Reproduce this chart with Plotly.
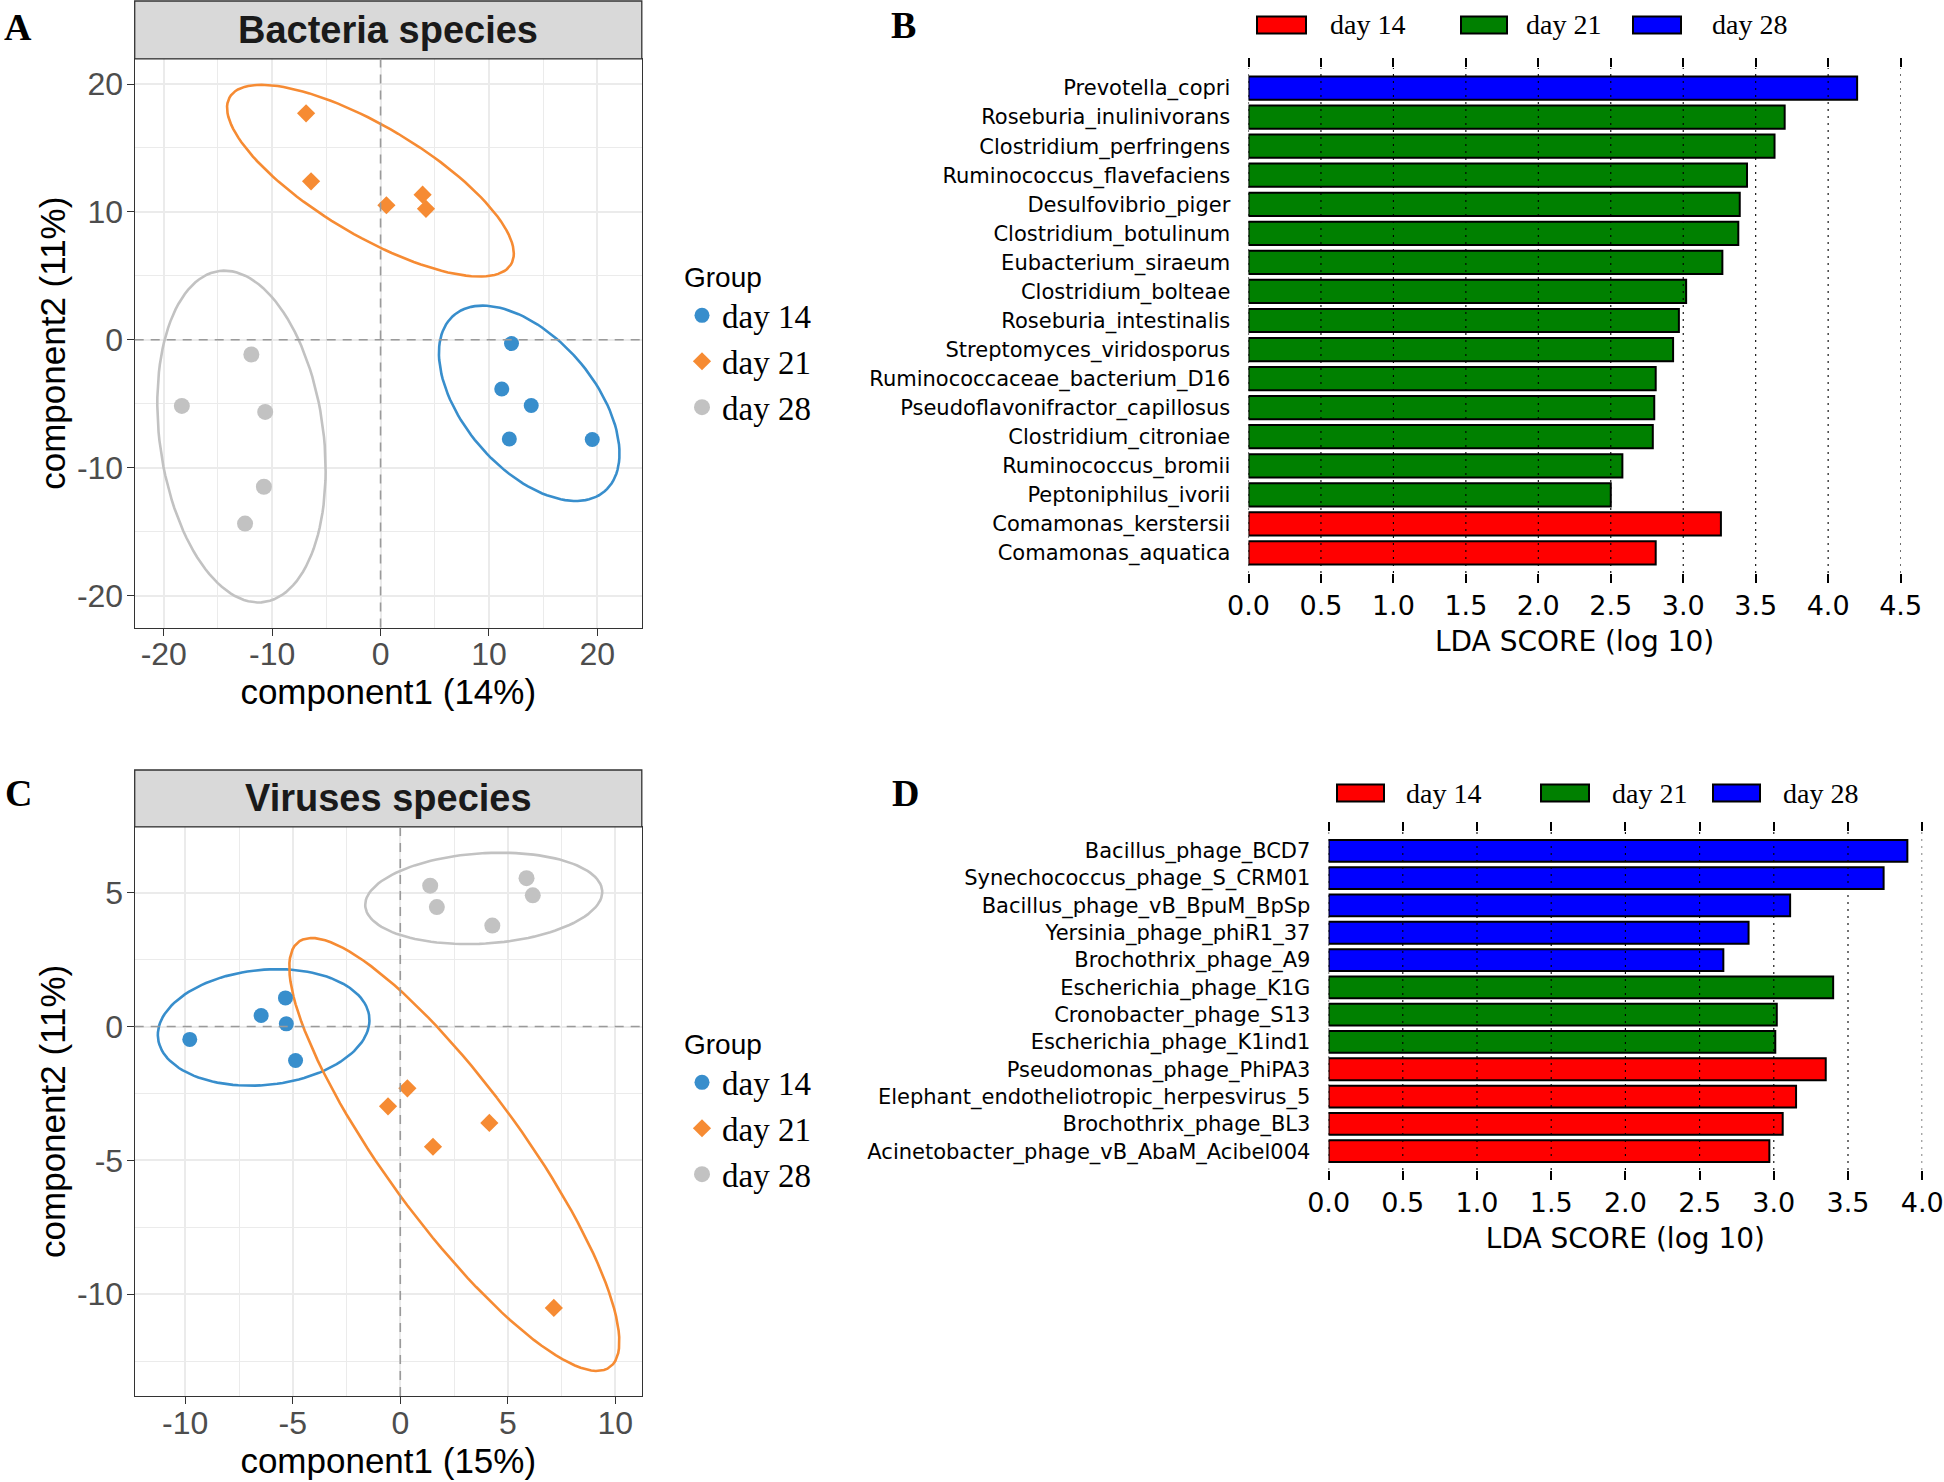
import numpy as np
import plotly.graph_objects as go

W, H = 1944, 1482

# ---------------- data ----------------
groups = ["day 14", "day 21", "day 28"]

# Panel A: Bacteria species (PLS-DA components)
A_d14_x = [12.08, 11.18, 13.90, 11.88, 19.53]
A_d14_y = [-0.29, -3.84, -5.14, -7.76, -7.79]
A_d21_x = [-6.87, -6.41, 0.54, 3.88, 4.19]
A_d21_y = [17.71, 12.39, 10.52, 11.35, 10.24]
A_d28_x = [-11.92, -18.33, -10.64, -10.76, -12.50]
A_d28_y = [-1.15, -5.17, -5.64, -11.49, -14.37]
A_xticks = [-20, -10, 0, 10, 20]
A_yticks = [-20, -10, 0, 10, 20]

# Panel C: Viruses species
C_d14_x = [-9.79, -6.47, -5.34, -5.30, -4.87]
C_d14_y = [-0.48, 0.41, 1.07, 0.10, -1.27]
C_d21_x = [-0.57, 0.33, 1.52, 4.14, 7.14]
C_d21_y = [-2.98, -2.31, -4.49, -3.60, -10.51]
C_d28_x = [1.39, 1.70, 4.28, 5.87, 6.16]
C_d28_y = [5.26, 4.46, 3.77, 5.54, 4.90]
C_xticks = [-10, -5, 0, 5, 10]
C_yticks = [-10, -5, 0, 5]

# Panel B: LEfSe bacteria
B_names = ["Prevotella_copri", "Roseburia_inulinivorans", "Clostridium_perfringens",
           "Ruminococcus_flavefaciens", "Desulfovibrio_piger", "Clostridium_botulinum",
           "Eubacterium_siraeum", "Clostridium_bolteae", "Roseburia_intestinalis",
           "Streptomyces_viridosporus", "Ruminococcaceae_bacterium_D16",
           "Pseudoflavonifractor_capillosus", "Clostridium_citroniae",
           "Ruminococcus_bromii", "Peptoniphilus_ivorii", "Comamonas_kerstersii",
           "Comamonas_aquatica"]
B_scores = [4.20, 3.70, 3.63, 3.44, 3.39, 3.38, 3.27, 3.02, 2.97, 2.93, 2.81, 2.80,
            2.79, 2.58, 2.50, 3.26, 2.81]
B_groups = ["day 28"] + ["day 21"] * 14 + ["day 14"] * 2

# Panel D: LEfSe viruses
D_names = ["Bacillus_phage_BCD7", "Synechococcus_phage_S_CRM01",
           "Bacillus_phage_vB_BpuM_BpSp", "Yersinia_phage_phiR1_37",
           "Brochothrix_phage_A9", "Escherichia_phage_K1G", "Cronobacter_phage_S13",
           "Escherichia_phage_K1ind1", "Pseudomonas_phage_PhiPA3",
           "Elephant_endotheliotropic_herpesvirus_5", "Brochothrix_phage_BL3",
           "Acinetobacter_phage_vB_AbaM_Acibel004"]
D_scores = [3.90, 3.74, 3.11, 2.83, 2.66, 3.40, 3.02, 3.01, 3.35, 3.15, 3.06, 2.97]
D_groups = ["day 28"] * 5 + ["day 21"] * 3 + ["day 14"] * 4

B_ticks = [0.0, 0.5, 1.0, 1.5, 2.0, 2.5, 3.0, 3.5, 4.0, 4.5]
D_ticks = [0.0, 0.5, 1.0, 1.5, 2.0, 2.5, 3.0, 3.5, 4.0]

# ---------------- styles ----------------
mixo_col = {"day 14": "#388ECC", "day 21": "#F68B33", "day 28": "#C2C2C2"}
mixo_sym = {"day 14": "circle", "day 21": "diamond", "day 28": "circle"}
mixo_size = {"day 14": 15, "day 21": 14, "day 28": 16}
lefse_col = {"day 14": "#FF0000", "day 21": "#008000", "day 28": "#0000FF"}

SANS = "Liberation Sans"
SERIF = "Liberation Serif"
DJV = "DejaVu Sans"


def fx(p):
    return p / W


def fy(p):
    return 1 - p / H


def ellipse(xs, ys, level=0.95, npts=120):
    x = np.asarray(xs, float)
    y = np.asarray(ys, float)
    cov = np.cov(x, y)
    t = np.sqrt(-2 * np.log(1 - level))
    sx, sy = np.sqrt(np.diag(cov))
    r = cov[0, 1] / (sx * sy)
    d = np.arccos(r)
    a = np.linspace(0, 2 * np.pi, npts)
    return t * sx * np.cos(a + d / 2) + x.mean(), t * sy * np.cos(a - d / 2) + y.mean()


fig = go.Figure()


# ---------------- scatter panels ----------------
def add_scatter_panel(data, xa, ya, leg):
    for g, (xs, ys) in zip(groups, data):
        ex, ey = ellipse(xs, ys)
        fig.add_trace(go.Scatter(x=ex, y=ey, mode="lines",
                                 line=dict(color=mixo_col[g], width=2.6),
                                 xaxis=xa, yaxis=ya, showlegend=False, hoverinfo="skip"))
    for g, (xs, ys) in zip(groups, data):
        fig.add_trace(go.Scatter(x=xs, y=ys, mode="markers", name=g,
                                 marker=dict(color=mixo_col[g], symbol=mixo_sym[g],
                                             size=mixo_size[g], line=dict(width=0)),
                                 xaxis=xa, yaxis=ya, legend=leg))


add_scatter_panel([(A_d14_x, A_d14_y), (A_d21_x, A_d21_y), (A_d28_x, A_d28_y)], "x", "y", "legend")
add_scatter_panel([(C_d14_x, C_d14_y), (C_d21_x, C_d21_y), (C_d28_x, C_d28_y)], "x3", "y3", "legend2")


# ---------------- bar panels ----------------
def add_bar_panel(names, scores, grps, xa, ya):
    for g in groups:
        xs = [s for s, gg in zip(scores, grps) if gg == g]
        ys = [n for n, gg in zip(names, grps) if gg == g]
        fig.add_trace(go.Bar(x=xs, y=ys, orientation="h", width=0.8,
                             marker=dict(color=lefse_col[g], line=dict(color="black", width=2)),
                             xaxis=xa, yaxis=ya, showlegend=False, name=g))


add_bar_panel(B_names, B_scores, B_groups, "x2", "y2")
add_bar_panel(D_names, D_scores, D_groups, "x4", "y4")


# ---------------- axes ----------------
def pca_axis(dom, rng, ticks, title, standoff, lblshift):
    step = ticks[1] - ticks[0]
    return dict(domain=dom, range=rng, tickmode="array", tickvals=ticks,
                ticktext=[str(t) for t in ticks], ticks="outside", ticklen=7,
                tickwidth=1.3, tickcolor="#333333", ticklabelstandoff=lblshift,
                tickfont=dict(family=SANS, size=32, color="#4D4D4D"),
                showgrid=True, gridcolor="#EBEBEB", gridwidth=1.6,
                minor=dict(tickmode="linear", dtick=step / 2, tick0=0, showgrid=True,
                           gridcolor="#EBEBEB", gridwidth=0.8, ticks=""),
                showline=True, mirror=True, linecolor="#333333", linewidth=1.3,
                zeroline=False, automargin=False,
                title=dict(text=title, font=dict(family=SANS, size=35, color="black"),
                           standoff=standoff))


A_xdom = [fx(134.7), fx(641.8)]
A_ydom = [fy(627.6), fy(58.8)]
C_ydom = [fy(1396), fy(826.8)]
B_xdom = [fx(1248.5), fx(1900.6)]
B_ydom = [fy(573), fy(68)]
D_xdom = [fx(1328.6), fx(1922.2)]
D_ydom = [fy(1170), fy(832)]

lay = dict(
    width=W, height=H, margin=dict(l=0, r=0, t=0, b=0, autoexpand=False),
    paper_bgcolor="white", plot_bgcolor="white",
)
lay["xaxis"] = pca_axis(A_xdom, [-22.68, 24.1], A_xticks, "component1 (14%)", 4, -9)
lay["yaxis"] = pca_axis(A_ydom, [-22.5, 21.97], A_yticks, "component2 (11%)", 0, -3)
lay["xaxis"]["anchor"] = "y"
lay["yaxis"]["anchor"] = "x"
lay["xaxis3"] = pca_axis(A_xdom, [-12.35, 11.23], C_xticks, "component1 (15%)", 4, -9)
lay["yaxis3"] = pca_axis(C_ydom, [-13.8, 7.46], C_yticks, "component2 (11%)", 0, -3)
lay["xaxis3"]["anchor"] = "y3"
lay["yaxis3"]["anchor"] = "x3"


def lda_xaxis(dom, ticks, anchor):
    return dict(domain=dom, range=[ticks[0], ticks[-1]], tickmode="array", tickvals=ticks,
                ticktext=[f"{t:.1f}" for t in ticks], anchor=anchor,
                ticks="outside", ticklen=9, tickwidth=1.5, tickcolor="black", mirror="ticks",
                showline=False, showgrid=False, zeroline=False, automargin=False,
                tickfont=dict(family=DJV, size=27, color="black"),
                title=dict(text="LDA SCORE (log 10)", font=dict(family=DJV, size=28, color="black"),
                           standoff=10))


def lda_yaxis(dom, names, anchor):
    n = len(names)
    return dict(domain=dom, type="category", categoryorder="array", categoryarray=names,
                range=[n - 1 + 0.69, -0.69], anchor=anchor,
                ticks="outside", ticklen=13, tickcolor="rgba(0,0,0,0)",
                showline=False, showgrid=False, zeroline=False, automargin=False,
                tickfont=dict(family=DJV, size=21, color="black"))


lay["xaxis2"] = lda_xaxis(B_xdom, B_ticks, "y2")
lay["yaxis2"] = lda_yaxis(B_ydom, B_names, "x2")
lay["xaxis4"] = lda_xaxis(D_xdom, D_ticks, "y4")
lay["yaxis4"] = lda_yaxis(D_ydom, D_names, "x4")

# legends
for key, top in [("legend", 251), ("legend2", 1018)]:
    lay[key] = dict(x=fx(682), y=fy(top), xanchor="left", yanchor="top",
                    title=dict(text="Group", font=dict(family=SANS, size=28, color="black")),
                    font=dict(family=SERIF, size=33, color="black"),
                    bgcolor="rgba(0,0,0,0)", tracegroupgap=0)

shapes = []
annotations = []

# strips
for (top, bot, text) in [(1, 58.8, "Bacteria species"), (770, 826.8, "Viruses species")]:
    shapes.append(dict(type="rect", xref="paper", yref="paper", x0=A_xdom[0], x1=A_xdom[1],
                       y0=fy(bot), y1=fy(top), fillcolor="#D9D9D9",
                       line=dict(color="#333333", width=1.3), layer="above"))
    annotations.append(dict(text=f"<b>{text}</b>", xref="paper", yref="paper",
                            x=(A_xdom[0] + A_xdom[1]) / 2, y=fy((top + bot) / 2),
                            showarrow=False, xanchor="center", yanchor="middle",
                            font=dict(family=SANS, size=38, color="#1A1A1A")))

# zero reference lines
for xa, ya in [("x", "y"), ("x3", "y3")]:
    shapes.append(dict(type="line", xref=xa, yref=f"{ya} domain", x0=0, x1=0, y0=0, y1=1,
                       line=dict(color="#9A9A9A", width=1.6, dash="9px,7px"), layer="above"))
    shapes.append(dict(type="line", xref=f"{xa} domain", yref=ya, x0=0, x1=1, y0=0, y1=0,
                       line=dict(color="#9A9A9A", width=1.6, dash="9px,7px"), layer="above"))

# dotted grid lines above bars
for xa, ya, ticks in [("x2", "y2", B_ticks), ("x4", "y4", D_ticks)]:
    for t in ticks:
        shapes.append(dict(type="line", xref=xa, yref=f"{ya} domain", x0=t, x1=t, y0=0, y1=1,
                           line=dict(color="black", width=1.1, dash="2px,5px"), layer="above"))


# LEfSe legends
def lefse_legend(boxes, texts, yc):
    for g, (x0, x1), tx in zip(groups, boxes, texts):
        shapes.append(dict(type="rect", xref="paper", yref="paper", x0=fx(x0), x1=fx(x1),
                           y0=fy(yc + 8.5), y1=fy(yc - 8.5), fillcolor=lefse_col[g],
                           line=dict(color="black", width=2), layer="above"))
        annotations.append(dict(text=g, xref="paper", yref="paper", x=fx(tx), y=fy(yc),
                                showarrow=False, xanchor="left", yanchor="middle",
                                font=dict(family=SERIF, size=28, color="black")))


lefse_legend([(1257, 1306), (1461, 1507), (1633, 1681)], [1328, 1524, 1710], 25)
lefse_legend([(1337, 1384), (1541, 1589), (1713, 1760)], [1404, 1610, 1781], 793)

# panel letters
for letter, x, y in [("A", 18, 27), ("B", 903, 25), ("C", 18, 793), ("D", 905, 793)]:
    annotations.append(dict(text=f"<b>{letter}</b>", xref="paper", yref="paper",
                            x=fx(x), y=fy(y), showarrow=False, xanchor="center",
                            yanchor="middle", font=dict(family=SERIF, size=38, color="black")))

lay["shapes"] = shapes
lay["annotations"] = annotations
fig.update_layout(**lay)

fig.write_html("out.html", config={"displayModeBar": False},
               post_script="document.body.style.margin='0px';document.body.style.overflow='hidden';")
